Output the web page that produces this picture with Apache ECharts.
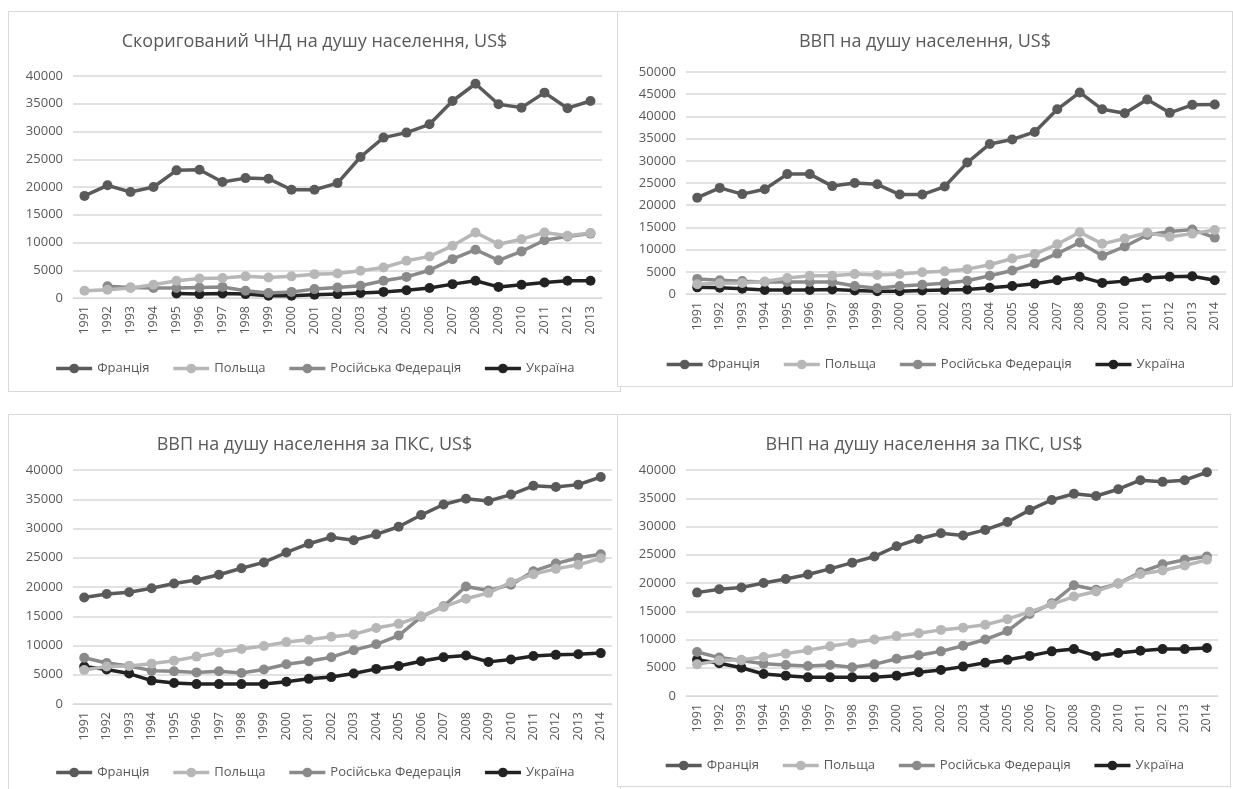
<!DOCTYPE html>
<html>
<head>
<meta charset="utf-8">
<script src="https://cdn.jsdelivr.net/npm/echarts@6/dist/echarts.min.js"></script>
<style>
body { margin: 0; background: #fff; width: 1233px; height: 789px; position: relative; overflow: hidden; }
.panel { position: absolute; border: 1px solid #d9d9d9; box-sizing: border-box; background: #fff; }
#p1 { left: 8px; top: 11px; width: 613px; height: 381px; }
#p2 { left: 617px; top: 11px; width: 616px; height: 376px; }
#p3 { left: 8px; top: 414px; width: 613px; height: 376px; }
#p4 { left: 617px; top: 414px; width: 614px; height: 373px; }
</style>
</head>
<body>
<div class="panel" id="p1"></div>
<div class="panel" id="p2"></div>
<div class="panel" id="p3"></div>
<div class="panel" id="p4"></div>
<script>
const names = ['Франція', 'Польща', 'Російська Федерація', 'Україна']
const colors = ['#5a5a5a', '#b7b7b7', '#8a8a8a', '#222222']

const years13 = ['1991', '1992', '1993', '1994', '1995', '1996', '1997', '1998', '1999', '2000', '2001', '2002',
  '2003', '2004', '2005', '2006', '2007', '2008', '2009', '2010', '2011', '2012', '2013']
const years14 = years13.concat(['2014'])

// Скоригований ЧНД на душу населення
const gniFrance = [18400, 20300, 19100, 20000, 23000, 23100, 20900, 21600, 21500, 19500, 19500, 20700,
  25400, 28900, 29800, 31300, 35500, 38600, 34900, 34300, 37000, 34200, 35500]
const gniPoland = [1300, 1500, 1800, 2400, 3100, 3500, 3600, 3900, 3700, 3900, 4300, 4400,
  4900, 5500, 6700, 7500, 9400, 11800, 9700, 10600, 11800, 11200, 11700]
const gniRussia = [null, 2100, 1900, 1800, 1800, 1900, 2000, 1300, 900, 1100, 1600, 1900,
  2200, 3100, 3800, 5000, 7000, 8700, 6800, 8400, 10400, 11100, 11600]
const gniUkraine = [null, null, null, null, 800, 700, 800, 700, 400, 400, 600, 700,
  900, 1100, 1400, 1800, 2500, 3100, 2000, 2400, 2800, 3100, 3100]

// ВВП на душу населення
const gdpFrance = [21700, 23900, 22500, 23600, 27000, 27000, 24300, 25000, 24700, 22400, 22400, 24200,
  29600, 33800, 34800, 36500, 41600, 45400, 41600, 40700, 43800, 40800, 42600, 42700]
const gdpPoland = [2200, 2400, 2500, 2800, 3600, 4100, 4100, 4500, 4300, 4500, 4900, 5100,
  5600, 6600, 8000, 9000, 11200, 13900, 11300, 12500, 13800, 12900, 13600, 14400]
const gdpRussia = [3400, 3100, 2900, 2700, 2700, 2700, 2700, 1800, 1300, 1800, 2100, 2400,
  3000, 4100, 5300, 6900, 9100, 11600, 8600, 10700, 13300, 14100, 14500, 12700]
const gdpUkraine = [1500, 1400, 1200, 900, 900, 900, 1000, 800, 600, 600, 800, 900,
  1000, 1400, 1800, 2300, 3100, 3900, 2500, 2900, 3600, 3900, 4000, 3100]

// ВВП на душу населення за ПКС
const pppFrance = [18200, 18800, 19100, 19800, 20600, 21200, 22100, 23200, 24200, 25900, 27400, 28500,
  28000, 29000, 30300, 32300, 34100, 35100, 34700, 35800, 37300, 37100, 37500, 38800]
const pppPoland = [5800, 6400, 6500, 6900, 7400, 8100, 8800, 9400, 9900, 10600, 11000, 11500,
  11900, 13000, 13700, 15000, 16600, 18000, 19000, 20800, 22200, 23100, 23800, 24900]
const pppRussia = [7900, 7000, 6500, 5700, 5600, 5400, 5600, 5300, 5900, 6800, 7300, 8000,
  9200, 10200, 11700, 14900, 16700, 20100, 19400, 20400, 22700, 24000, 25000, 25600]
const pppUkraine = [6400, 5900, 5200, 4000, 3600, 3400, 3400, 3400, 3400, 3800, 4300, 4600,
  5200, 6000, 6500, 7300, 8000, 8300, 7200, 7600, 8200, 8400, 8500, 8700]

// ВНП на душу населення за ПКС
const gnpFrance = [18300, 18900, 19200, 20000, 20700, 21500, 22500, 23600, 24700, 26500, 27800, 28800,
  28400, 29400, 30800, 32900, 34700, 35800, 35400, 36600, 38200, 37900, 38200, 39600]
const gnpPoland = [5600, 6300, 6400, 6900, 7500, 8100, 8800, 9400, 10000, 10600, 11100, 11700,
  12100, 12600, 13600, 14900, 16200, 17600, 18500, 19900, 21600, 22200, 23100, 24100]
const gnpRussia = [7800, 6800, 6300, 5700, 5500, 5300, 5500, 5100, 5600, 6600, 7200, 7900,
  8900, 10000, 11500, 14500, 16400, 19600, 18800, 19900, 21900, 23300, 24100, 24700]
const gnpUkraine = [6400, 5800, 5000, 3900, 3600, 3300, 3300, 3300, 3300, 3600, 4200, 4600,
  5200, 5900, 6400, 7100, 7900, 8300, 7100, 7600, 8000, 8300, 8300, 8500]

const font = 'Open Sans'

function genOption (title, years, data, max, grid, legendTop) {
  const series = []
  data.forEach((v, i) => {
    series.push({
      name: names[i],
      type: 'line',
      data: v,
      symbol: 'circle',
      symbolSize: 10,
      z: 10 - i,
      lineStyle: { width: 3.5, color: colors[i] },
      itemStyle: { color: colors[i] }
    })
  })
  return {
    animation: false,
    color: colors,
    title: {
      text: title,
      left: 'center',
      top: 16,
      textStyle: { fontFamily: font, fontSize: 18, fontWeight: 'normal', color: '#595959' }
    },
    legend: {
      data: names,
      top: legendTop,
      left: 'center',
      itemWidth: 36,
      itemHeight: 12,
      itemGap: 22,
      lineStyle: { width: 3.5 },
      textStyle: { fontFamily: font, fontSize: 13, color: '#595959' }
    },
    grid: grid,
    xAxis: {
      type: 'category',
      data: years,
      boundaryGap: true,
      axisLine: { lineStyle: { color: '#d9d9d9', width: 1 } },
      axisTick: { show: false },
      axisLabel: { rotate: 90, interval: 0, fontFamily: font, fontSize: 12.5, color: '#595959', margin: 8 }
    },
    yAxis: {
      type: 'value',
      min: 0,
      max: max,
      interval: 5000,
      axisLine: { show: false },
      axisTick: { show: false },
      splitLine: { lineStyle: { color: '#d9d9d9', width: 1.5 } },
      axisLabel: { fontFamily: font, fontSize: 13, color: '#595959', margin: 10, formatter: (v) => String(v) }
    },
    series: series
  }
}

const c1 = echarts.init(document.getElementById('p1'))
c1.setOption(genOption('Скоригований ЧНД на душу населення, US$', years13,
  [gniFrance, gniPoland, gniRussia, gniUkraine], 40000,
  { left: 64, right: 18, top: 64, height: 222 }, 345))

const c2 = echarts.init(document.getElementById('p2'))
c2.setOption(genOption('ВВП на душу населення, US$', years14,
  [gdpFrance, gdpPoland, gdpRussia, gdpUkraine], 50000,
  { left: 68, right: 6, top: 60, height: 222 }, 341))

const c3 = echarts.init(document.getElementById('p3'))
c3.setOption(genOption('ВВП на душу населення за ПКС, US$', years14,
  [pppFrance, pppPoland, pppRussia, pppUkraine], 40000,
  { left: 64, right: 8, top: 55, height: 234 }, 346))

const c4 = echarts.init(document.getElementById('p4'))
c4.setOption(genOption('ВНП на душу населення за ПКС, US$', years14,
  [gnpFrance, gnpPoland, gnpRussia, gnpUkraine], 40000,
  { left: 68, right: 12, top: 55, height: 226 }, 339))
</script>
</body>
</html>
